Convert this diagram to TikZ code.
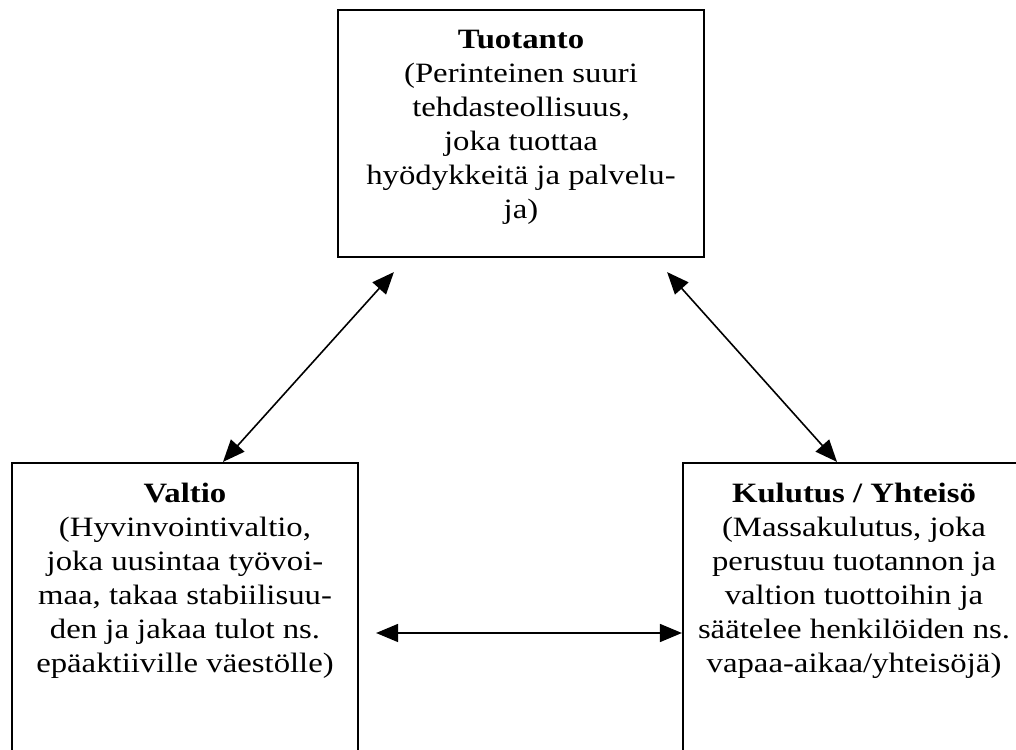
\documentclass[tikz,border=0pt]{standalone}
\usepackage{fontspec}
\setmainfont{Liberation Serif}[FakeStretch=1.17]
\usetikzlibrary{positioning,arrows.meta}

\begin{document}
\begin{tikzpicture}[
  x=1pt, y=1pt,
  box/.style={draw, line width=2.2pt, inner sep=0pt},
  txt/.style={align=center, inner sep=0pt, font=\fontsize{28}{34}\selectfont},
  flow/.style={{Triangle[length=22pt,width=18pt]}-{Triangle[length=22pt,width=18pt]}, line width=1.6pt}
]
\useasboundingbox (0,0) rectangle (1016,749);
\clip (0,0) rectangle (1016,749);

\node[box, minimum width=366pt, minimum height=247pt] (tuotanto) at (521,615.5) {};
\node[box, minimum width=346pt, minimum height=320pt] (valtio) at (185,126) {};
\node[box, minimum width=342pt, minimum height=320pt] (kulutus) at (854,126) {};

\node[txt, below=21pt of tuotanto.north] (tuotantoteksti) {\textbf{Tuotanto}\\(Perinteinen suuri\\tehdasteollisuus,\\joka tuottaa\\hyödykkeitä ja palvelu-\\ja)};
\node[txt, below=21pt of valtio.north] (valtioteksti) {\textbf{Valtio}\\(Hyvinvointivaltio,\\joka uusintaa työvoi-\\maa, takaa stabiilisuu-\\den ja jakaa tulot ns.\\epäaktiiville väestölle)};
\node[txt, below=21pt of kulutus.north] (kulutusteksti) {\textbf{Kulutus / Yhteisö}\\(Massakulutus, joka\\perustuu tuotannon ja\\valtion tuottoihin ja\\säätelee henkilöiden ns.\\vapaa-aikaa/yhteisöjä)};

\draw[flow] ([xshift=57pt,yshift=-14pt]tuotanto.south west) -- ([xshift=38pt]valtio.north);
\draw[flow] ([xshift=-38pt,yshift=-14pt]tuotanto.south east) -- ([xshift=-17pt]kulutus.north);
\draw[flow] ([xshift=17pt,yshift=-10pt]valtio.east) -- ([yshift=-10pt]kulutus.west);
\end{tikzpicture}
\end{document}
